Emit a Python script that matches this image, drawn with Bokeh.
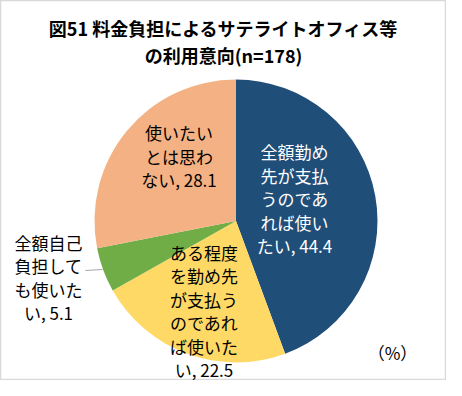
import math
from bokeh.plotting import figure
from bokeh.models import Range1d, ColumnDataSource
from bokeh.core.properties import value
from bokeh.embed import file_html
from bokeh.resources import INLINE

# ---- data ----
categories = ["全額勤め先が支払うのであれば使いたい",
              "ある程度を勤め先が支払うのであれば使いたい",
              "全額自己負担しても使いたい",
              "使いたいとは思わない"]
values = [44.4, 22.5, 5.1, 28.1]
label_texts = ["全額勤め\n先が支払\nうのであ\nれば使い\nたい, 44.4",
               "ある程度\nを勤め先\nが支払う\nのであれ\nば使いた\nい, 22.5",
               "全額自己\n負担して\nも使いた\nい, 5.1",
               "使いたい\nとは思わ\nない, 28.1"]
colors = ["#1F4E79", "#FFD966", "#70AD47", "#F4B183"]
label_colors = ["white", "black", "black", "black"]
title_lines = ["図51 料金負担によるサテライトオフィス等", "の利用意向(n=178)"]
unit_label = "（%）"

# ---- layout ----
W, H = 446, 380
def px(X):  # reference pixel x -> data x
    return X - 8
def py(Y):  # reference pixel y -> data y
    return H + 8 - Y

cx, cy, r = px(243.5), py(228.5), 141.5
JP = "Noto Sans CJK JP"

p = figure(width=W, height=H, output_backend="svg", toolbar_location=None,
           x_range=Range1d(0, W), y_range=Range1d(0, H), min_border=0)
p.axis.visible = False
p.grid.visible = False
p.outline_line_color = "#d9d9d9"
p.outline_line_width = 1.5
p.background_fill_color = "white"

total = sum(values)
starts, ends = [], []
cum = 0.0
for v in values:
    starts.append(math.pi / 2 - 2 * math.pi * cum / total)
    cum += v
    ends.append(math.pi / 2 - 2 * math.pi * cum / total)

src = ColumnDataSource(dict(cat=categories, val=values, start=starts, end=ends, color=colors))
p.wedge(x=cx, y=cy, radius=r, start_angle="start", end_angle="end", direction="clock",
        fill_color="color", line_color="white", line_width=0, source=src)

# label positions (layout, reference pixels)
label_pos = [(302, 206), (211.5, 318.5), (56, 285), (186.5, 163.5)]
lsrc = ColumnDataSource(dict(x=[px(a) for a, b in label_pos], y=[py(b) for a, b in label_pos],
                             text=label_texts, color=label_colors))
p.text(x="x", y="y", text="text", text_color="color", source=lsrc,
       text_font=value(JP), text_font_size="17px", text_align="center",
       text_baseline="middle", text_line_height=0.94)

# leader line for small slice
p.line(x=[px(93), px(110)], y=[py(278), py(277)], line_color="#a6a6a6", line_width=1)

# title
p.text(x=[px(231), px(231)], y=[py(35), py(62)], text=title_lines,
       text_font=value(JP), text_font_size="18px", text_font_style="bold",
       text_align="center", text_baseline="middle", text_color="black")

# unit
p.text(x=[px(400)], y=[py(360)], text=[unit_label], text_font=value(JP),
       text_font_size="17px", text_align="center", text_baseline="middle", text_color="black")

open("out.html", "w").write(file_html(p, INLINE))
